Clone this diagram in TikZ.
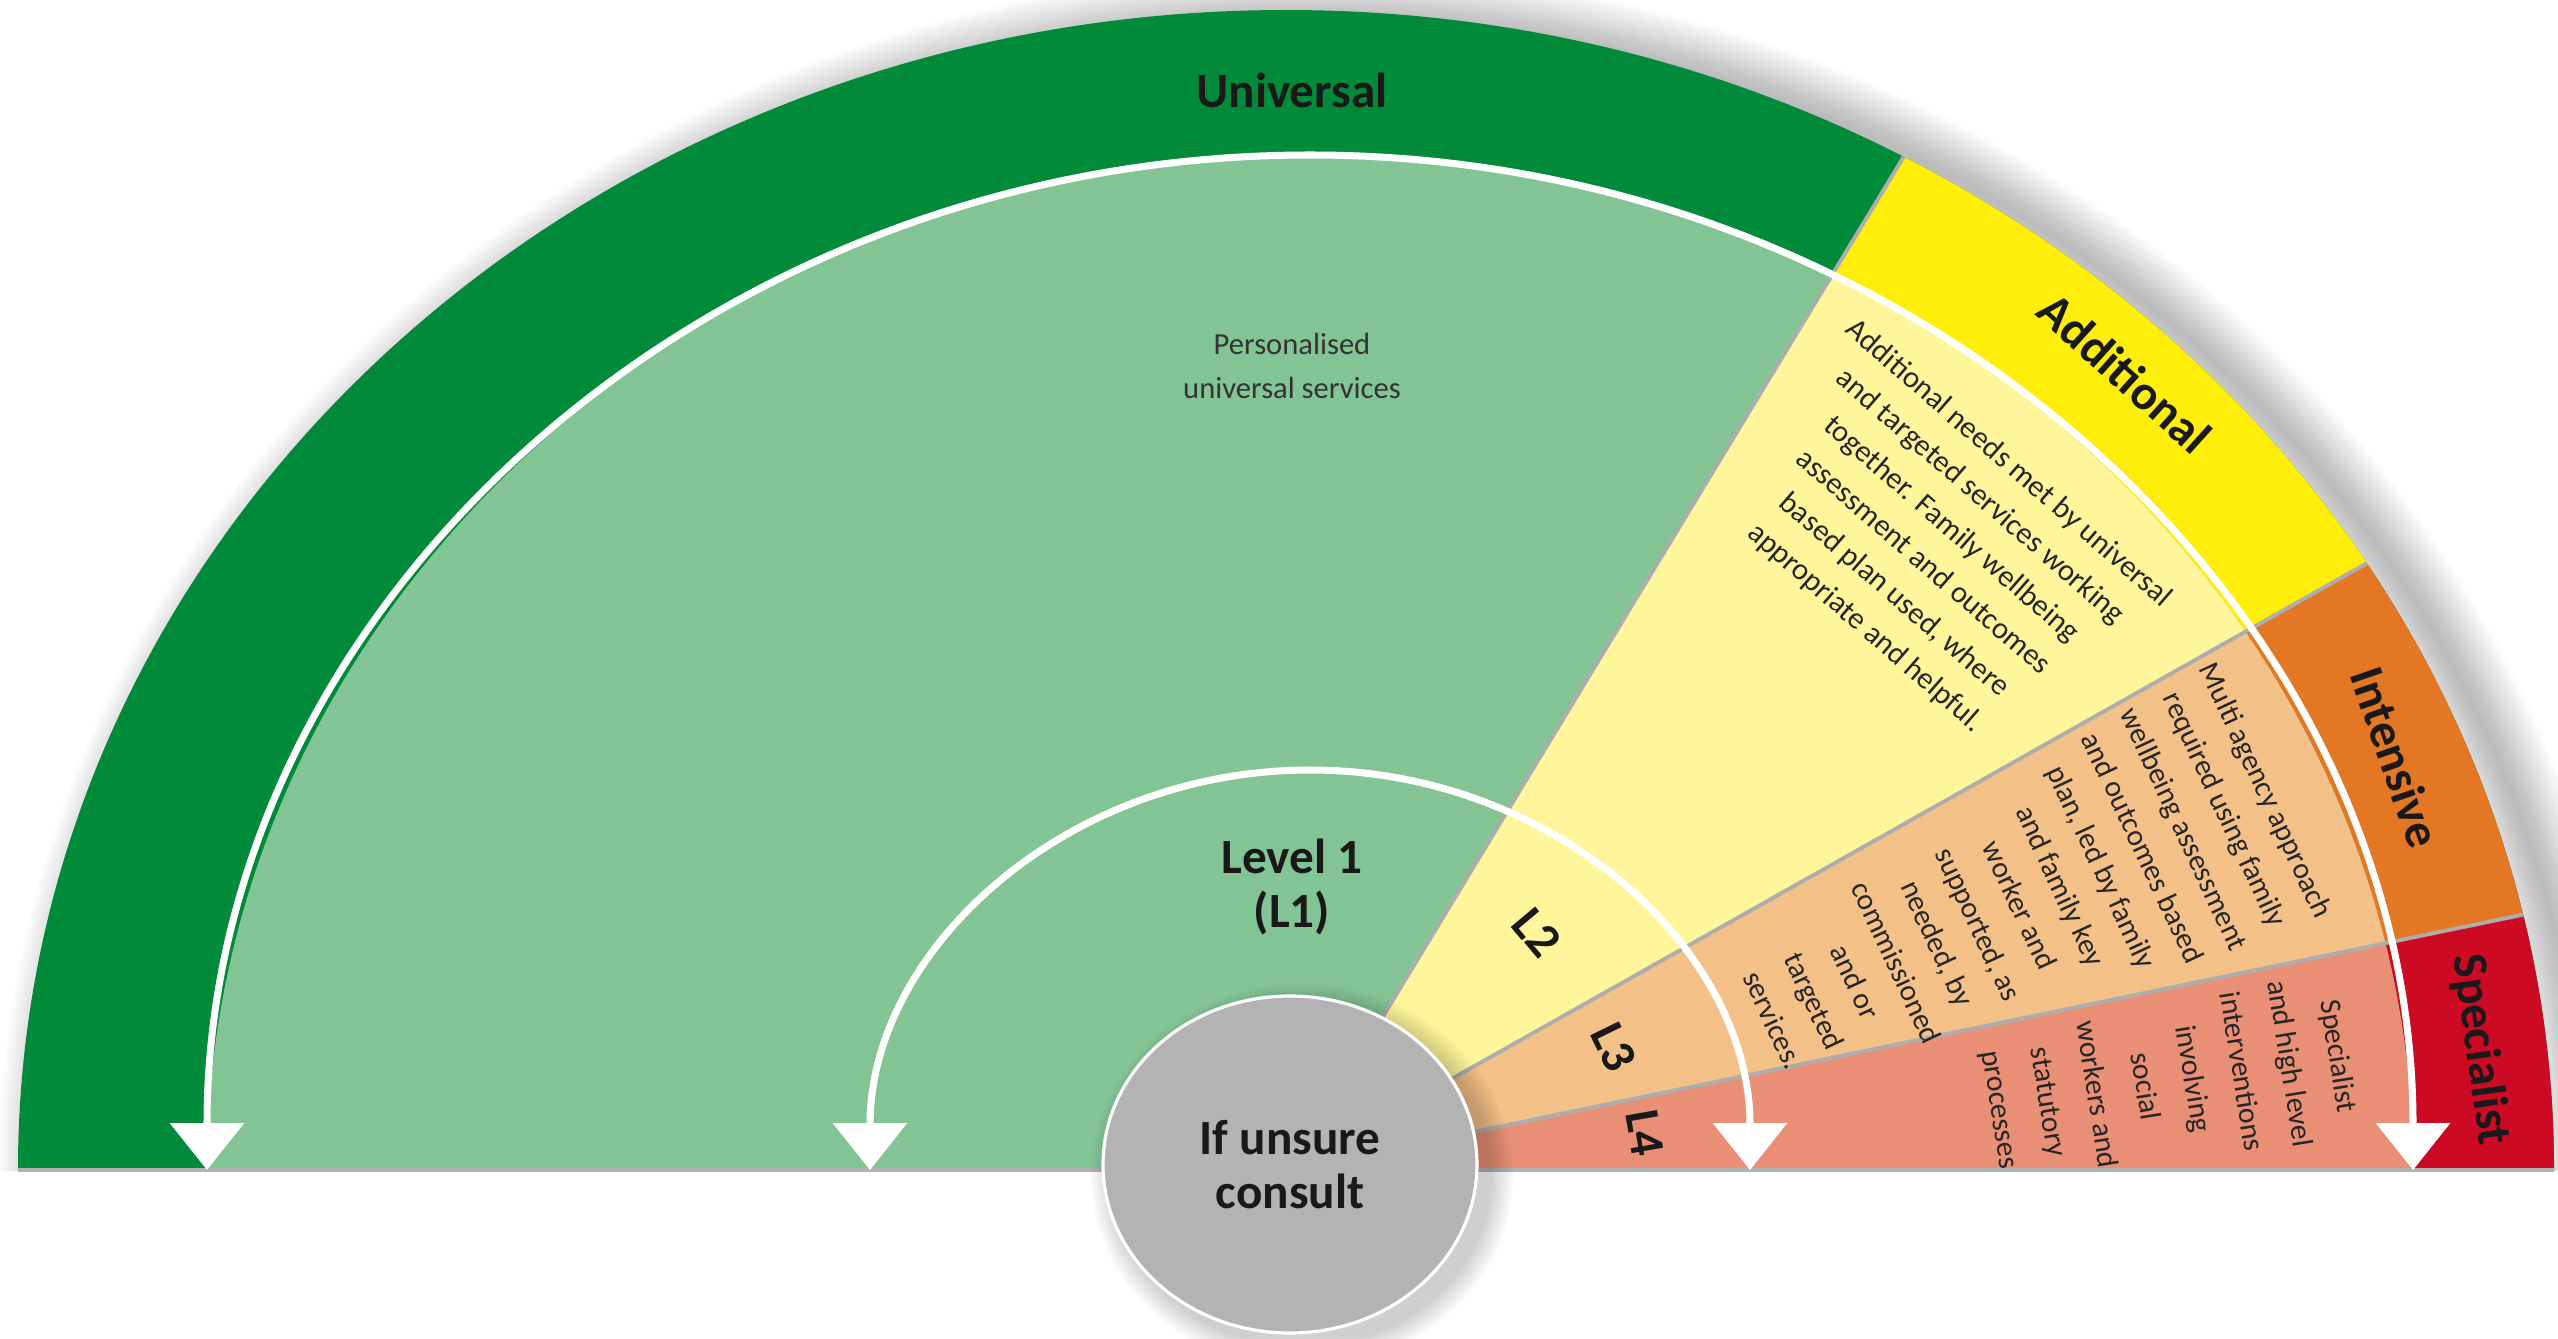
\documentclass[tikz,border=0pt]{standalone}
\usepackage{fontspec}
\setmainfont{Carlito}
\usetikzlibrary{arrows.meta,shapes.geometric}

\definecolor{unidark}{RGB}{0,138,58}
\definecolor{unilight}{RGB}{131,196,149}
\definecolor{adddark}{RGB}{255,237,10}
\definecolor{addlight}{RGB}{255,246,155}
\definecolor{intdark}{RGB}{227,119,35}
\definecolor{intlight}{RGB}{243,192,135}
\definecolor{specdark}{RGB}{205,10,35}
\definecolor{speclight}{RGB}{232,143,117}
\definecolor{consultgrey}{RGB}{178,179,178}

\begin{document}
\begin{tikzpicture}[
      bandlabel/.style={font=\bfseries\fontsize{14}{16}\selectfont, text=black!90},
      levellabel/.style={font=\bfseries\fontsize{14}{15.5}\selectfont, align=center, text=black!90},
      blurb/.style={font=\fontsize{8.7}{12.4}\selectfont, align=center, text=black!85},
      divider/.style={draw=black!32, line width=1.1pt},
      fanarrow/.style={draw=white, line width=2pt, {Triangle[width=7.3mm,length=4.7mm]}-{Triangle[width=7.3mm,length=4.7mm]}}
   ]
               \useasboundingbox (0,0) rectangle (25.58,13.38);
               \fill[white] (0,0) rectangle (25.58,13.38);

               \coordinate (hub) at (12.90,1.68);

               % soft shadow round the fan
               \begin{scope}
                  \clip (0,1.68) rectangle (25.58,13.38);
                  \foreach \w in {1,...,14}
                     \draw[black, opacity=0.02, line width=\w*0.7mm] (25.84,1.58) arc[start angle=0, end angle=180, x radius=12.68, y radius=11.6];
               \end{scope}

               % outer bands
               \begin{scope}
                  \clip (25.54,1.68) arc[start angle=0, end angle=180, x radius=12.68, y radius=11.6] -- cycle;
                  \fill[unidark] (0,1.68) rectangle (25.58,13.38);
                  \fill[adddark] (hub) -- +(58.8:30) -- +(29.4:30) -- cycle;
                  \fill[intdark] (hub) -- +(29.4:30) -- +(11.7:30) -- cycle;
                  \fill[specdark] (hub) -- +(11.7:30) -- +(0:30) -- cycle;
                  % inner sectors
                  \begin{scope}
                     \clip (24.13,1.68) arc[start angle=0, end angle=180, x radius=11.03, y radius=10.15] -- cycle;
                     \fill[unilight] (0,1.68) rectangle (25.58,13.38);
                     \fill[addlight] (hub) -- +(58.8:30) -- +(29.4:30) -- cycle;
                     \fill[intlight] (hub) -- +(29.4:30) -- +(11.7:30) -- cycle;
                     \fill[speclight] (hub) -- +(11.7:30) -- +(0:30) -- cycle;
                  \end{scope}
                  \draw[divider] (hub) -- +(58.8:15);
                  \draw[divider] (hub) -- +(29.4:15);
                  \draw[divider] (hub) -- +(11.7:15);
               \end{scope}
               \draw[black!30, line width=0.9pt] (0.18,1.68) -- (25.54,1.68);

               % arrows
               \coordinate (bigleft) at (2.07,1.68);
               \coordinate (smallleft) at (8.70,1.68);
               \draw[fanarrow] (bigleft) arc[start angle=180, end angle=0, x radius=11.03, y radius=10.15];
               \draw[fanarrow] (smallleft) arc[start angle=180, end angle=0, x radius=4.40, y radius=4.00];

               % centre disc
               \foreach \s in {1,...,8}
                  \fill[black, opacity=0.025] (13.02,1.62) ellipse [x radius={1.87+0.03*\s}, y radius={1.685+0.03*\s}];
               \node[ellipse, minimum width=3.74cm, minimum height=3.37cm, inner sep=0pt, fill=consultgrey, draw=white, line width=0.9pt,
                     font=\bfseries\fontsize{14}{15.6}\selectfont, align=center, text=black!90] (consult) at (12.90,1.735) {If unsure\\consult};

               % labels
               \node[bandlabel] (universal) at (12.92,12.48) {Universal};
               \node[bandlabel, rotate=-42] (additional) at (21.25,9.65) {Additional};
               \node[bandlabel, rotate=-71] (intensive) at (23.96,5.81) {Intensive};
               \node[bandlabel, rotate=-82] (specialist) at (24.80,2.88) {Specialist};

               \node[blurb, text=black!80] (personal) at (12.92,9.72) {Personalised\\universal services};
               \node[levellabel] (level1) at (12.92,4.51) {Level 1\\(L1)};
               \node[levellabel, rotate=-50] (ltwo) at (15.37,4.05) {L2};
               \node[levellabel, rotate=-64] (lthree) at (16.14,2.91) {L3};
               \node[levellabel, rotate=-80] (lfour) at (16.45,2.05) {L4};

               \node[blurb, rotate=-41] (addtext) at (19.37,7.92) {Additional needs met by universal\\and targeted services working\\together. Family wellbeing\\assessment and outcomes\\based plan used, where\\appropriate and helpful.};
               \node[blurb, rotate=-65, font=\fontsize{8.5}{12.9}\selectfont] (inttext) at (20.20,4.33) {Multi agency approach\\required using family\\wellbeing assessment\\and outcomes based\\plan, led by family\\and family key\\worker and\\supported, as\\needed, by\\commissioned\\and or\\targeted\\services.};
               \node[blurb, rotate=-81, font=\fontsize{8.5}{13.9}\selectfont] (spectext) at (21.68,2.55) {Specialist\\and high level\\interventions\\involving\\social\\workers and\\statutory\\processes};
            \end{tikzpicture}
\end{document}
